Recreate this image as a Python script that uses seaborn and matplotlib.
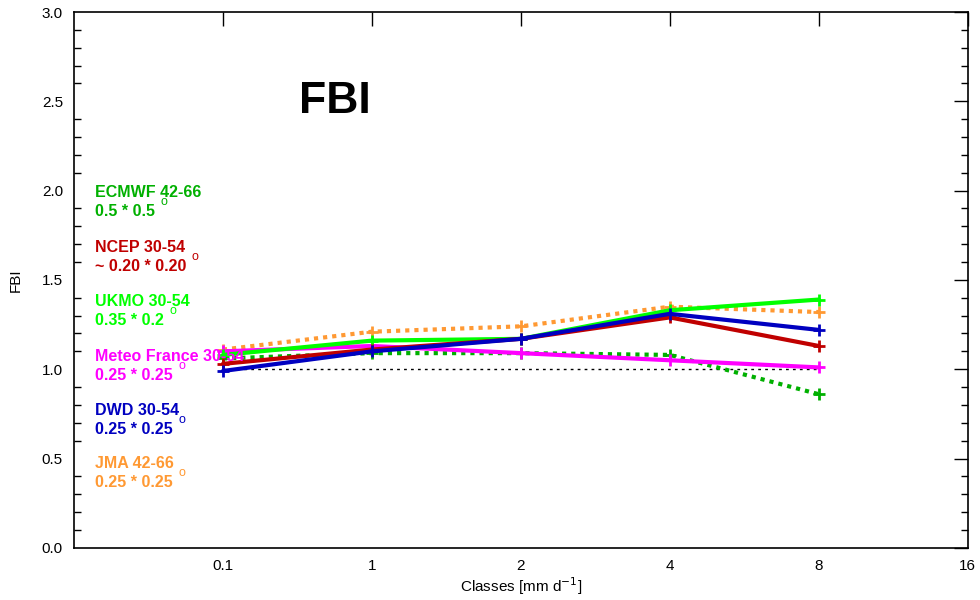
import numpy as np
import pandas as pd
import seaborn as sns
import matplotlib.pyplot as plt
from matplotlib.ticker import MultipleLocator

# precipitation classes (x axis is categorical, evenly spaced)
classes = ["0.1", "1", "2", "4", "8"]
tick_labels = ["0.1", "1", "2", "4", "8", "16"]

# FBI per model
ecmwf = [1.06, 1.09, 1.09, 1.08, 0.86]
ncep = [1.03, 1.11, 1.17, 1.29, 1.13]
ukmo = [1.08, 1.16, 1.17, 1.33, 1.39]
meteofrance = [1.10, 1.13, 1.09, 1.05, 1.01]
dwd = [0.99, 1.10, 1.17, 1.31, 1.22]
jma = [1.11, 1.21, 1.24, 1.35, 1.32]
reference = [1.0, 1.0, 1.0, 1.0, 1.0]

models = ["ECMWF 42-66", "NCEP 30-54", "UKMO 30-54", "Meteo France 30-54", "DWD 30-54", "JMA 42-66"]
resolutions = ["0.5 * 0.5", "~ 0.20 * 0.20", "0.35 * 0.2", "0.25 * 0.25", "0.25 * 0.25", "0.25 * 0.25"]
colors = ["#00b000", "#c00000", "#00ff00", "#ff00ff", "#0000c0", "#ff9933"]
dotted = [True, False, False, False, False, True]

sns.set_style("white")
plt.rcParams["font.family"] = ["Liberation Sans", "DejaVu Sans"]
plt.rcParams["text.color"] = "black"
plt.rcParams["axes.labelcolor"] = "black"
plt.rcParams["xtick.color"] = "black"
plt.rcParams["ytick.color"] = "black"

series = [ecmwf, ncep, ukmo, meteofrance, dwd, jma]
rows = []
for name, vals in zip(models, series):
    for i, v in enumerate(vals):
        rows.append({"model": name, "pos": i + 1, "fbi": v})
df = pd.DataFrame(rows)

fig = plt.figure(figsize=(9.8, 6), dpi=100)
ax = fig.add_axes([0.0755, 0.087, 0.912, 0.893])

# reference line FBI = 1
ax.plot(np.arange(1, len(classes) + 1), reference, color="black", lw=1, linestyle=(0, (2, 3)))

# draw order: dotted first, then solid ones
order = [0, 5, 3, 2, 1, 4]
for k in order:
    sub = df[df["model"] == models[k]]
    sns.lineplot(data=sub, x="pos", y="fbi", ax=ax, color=colors[k], lw=3,
                 linestyle=(0, (1, 1.2)) if dotted[k] else "-",
                 marker="+", markersize=9, markeredgewidth=2,
                 markeredgecolor=colors[k], legend=False)

ax.set_xlim(0, 6)
ax.set_ylim(0, 3)
ax.set_xticks(range(1, 7))
ax.set_xticklabels(tick_labels)
ax.yaxis.set_major_locator(MultipleLocator(0.5))
ax.yaxis.set_minor_locator(MultipleLocator(0.1))
ax.yaxis.set_major_formatter(plt.FormatStrFormatter("%.1f"))
ax.tick_params(axis="both", which="major", direction="in", length=10, width=1,
               top=True, right=True, labelsize=11, pad=8)
ax.tick_params(axis="y", which="minor", direction="in", length=5, width=1, left=True, right=True)
for s in ax.spines.values():
    s.set_color("black")
    s.set_linewidth(1.2)

ax.set_xlabel("Classes [mm d$^{-1}$]", fontsize=11, labelpad=2)
ax.set_ylabel("FBI", fontsize=11, labelpad=14)

# big label
ax.text(1.75, 2.5, "FBI", fontsize=32, fontweight="bold", ha="center", va="center", color="black")

# model annotations on the left
top_y = [1.99, 1.68, 1.38, 1.07, 0.77, 0.47]
for k in range(len(models)):
    ax.text(0.14, top_y[k], models[k], color=colors[k], fontsize=11.5, fontweight="bold", va="center")
    t = ax.text(0.14, top_y[k] - 0.105, resolutions[k], color=colors[k], fontsize=11.5,
                fontweight="bold", va="center")
    # small degree sign raised above the line end
    ax.annotate("o", xy=(1, 1), xycoords=t, xytext=(4, -3), textcoords="offset points",
                color=colors[k], fontsize=9, ha="left", va="bottom")

fig.savefig("out.png", dpi=100)
